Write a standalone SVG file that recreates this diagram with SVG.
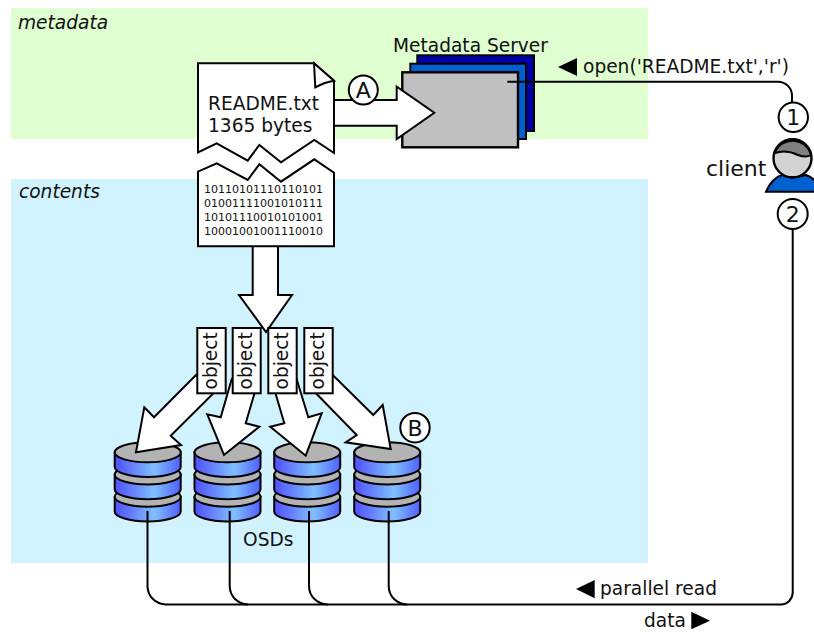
<svg xmlns="http://www.w3.org/2000/svg" xmlns:xlink="http://www.w3.org/1999/xlink" width="814" height="633" viewBox="0 0 814 633">
<style>
text{font-family:"DejaVu Sans",sans-serif;fill:#111}
.s{stroke:#000;stroke-width:2;fill:#fff;stroke-linejoin:miter}
.w{stroke:#000;stroke-width:2;fill:#fff;stroke-miterlimit:10}
.c{fill:none;stroke:#000;stroke-width:2}
.m{font-size:18.6px}
.b{font-size:11px}
.n{font-size:22px;text-anchor:middle}
.disc{fill:url(#g);stroke:#000;stroke-width:2}
.top{fill:#b3b3b3;stroke:#000;stroke-width:2}
</style>
<defs>
<linearGradient id="g" x1="0" x2="1" y1="0" y2="0"><stop offset="0" stop-color="#4f4fff"/><stop offset="0.6" stop-color="#80bfff"/><stop offset="1" stop-color="#4f5fff"/></linearGradient>
<g id="disc"><path class="disc" d="M-33 0V14.7A33 10 0 0 0 33 14.7V0Z"/><ellipse class="top" cx="0" cy="0" rx="33" ry="10"/></g>
<g id="cyl"><use xlink:href="#disc" y="44.4"/><use xlink:href="#disc" y="22.2"/><use xlink:href="#disc" y="0"/></g>
</defs>
<rect id="metadata-zone" x="11" y="8" width="637" height="131" fill="#dfffd1"/>
<rect id="contents-zone" x="11" y="179" width="637" height="384" fill="#d1f2ff"/>
<text x="18" y="29" class="m" font-style="italic">metadata</text>
<text x="19" y="198" class="m" font-style="italic">contents</text>
<g id="metadata-server">
<rect x="417.3" y="55.3" width="116.7" height="75.7" fill="#0000a8" stroke="#000" stroke-width="2"/>
<rect x="410.3" y="63.7" width="115.7" height="75.3" fill="#0060d0" stroke="#000" stroke-width="2"/>
<rect x="402.3" y="72.3" width="115.7" height="75" fill="#c0c0c0" stroke="#000" stroke-width="2.4"/>
<text x="393" y="52" class="m">Metadata Server</text>
</g>
<g id="connectors">
<path class="c" d="M507.3 81.7H778A14 14 0 0 1 792 96V103"/>
<path class="c" d="M792.7 229V592A12 12 0 0 1 781 604.5H166A18.500 18.500 0 0 1 147.500 586V511"/>
<path class="c" d="M248 604.500A18.500 18.500 0 0 1 229.700 586V511"/>
<path class="c" d="M327.500 604.500A18.500 18.500 0 0 1 309 586V511"/>
<path class="c" d="M407 604.500A18.500 18.500 0 0 1 388.700 586V511"/>
</g>
<g id="cylinders">
<use id="osd1" xlink:href="#cyl" x="147.700" y="452.300"/>
<use id="osd2" xlink:href="#cyl" x="227.500" y="452.300"/>
<use id="osd3" xlink:href="#cyl" x="307.200" y="452.300"/>
<use id="osd4" xlink:href="#cyl" x="387.200" y="452.300"/>
<path class="c" d="M147.500 511V522M229.700 511V522M309 511V522M388.700 511V522"/>
</g>
<g id="arrows">
<path class="w" d="M334 100H396.700V86.700L434.300 112.700 396.700 139V125.700H334Z"/>
<path class="w" d="M252.700 246V295H239L266 332 292 295H278V246Z"/>
<path class="w" d="M196 375L154 417.300 144.300 407.300 136 452.300 181 445 170.700 435.700 212.700 394Z"/>
<path class="w" d="M231.700 379.300L220.700 417.300 207.300 414.300 224 455 259.300 426.700 245.700 423.300 254.300 394Z"/>
<path class="w" d="M275.700 394L284.300 423.300 270.300 426.700 305.700 455.700 321.700 413.300 308.300 417.300 296.700 379.300Z"/>
<path class="w" d="M316.700 394L356.700 435 345.700 442.300 390.700 449 382.700 405 373.300 415 332.700 375Z"/>
</g>
<g id="readme">
<path class="s" d="M198 63.300H314L334 80.700V153L314.300 140 281 162.300 259.300 145 247.700 160.700 216.700 143.300 198 152.300Z"/>
<path class="s" d="M314 63.300L315.300 87.300Q325 82 334 80.700Z"/>
<text x="208" y="110" class="m">README.txt</text>
<text x="208" y="132" class="m">1365 bytes</text>
</g>
<g id="binary">
<path class="s" d="M198 171.700L216.700 163.300 247.700 180 259.300 164.300 281 181.700 314.300 159.300 334 172.700V246.300H198Z"/>
<text x="204" y="193.300" class="b">10110101110110101</text>
<text x="204" y="207.300" class="b">01001111001010111</text>
<text x="204" y="221.300" class="b">10101110010101001</text>
<text x="204" y="235.300" class="b">10001001001110010</text>
</g>
<g id="object1"><rect class="s" x="197.300" y="328" width="28.400" height="65.300"/><text transform="translate(216.500 389.500) rotate(-90)" class="m">object</text></g>
<g id="object2"><rect class="s" x="232.700" y="328" width="28" height="65.300"/><text transform="translate(251.500 389.500) rotate(-90)" class="m">object</text></g>
<g id="object3"><rect class="s" x="268.300" y="328" width="28.400" height="65.300"/><text transform="translate(287.500 389.500) rotate(-90)" class="m">object</text></g>
<g id="object4"><rect class="s" x="304.300" y="328" width="28.400" height="65.300"/><text transform="translate(323.500 389.500) rotate(-90)" class="m">object</text></g>
<g id="label-a"><circle class="s" cx="363.300" cy="90" r="14.500"/><text x="363.300" y="98" class="n">A</text></g>
<g id="label-b"><circle class="s" cx="415" cy="427.700" r="14.700"/><text x="415" y="435.700" class="n">B</text></g>
<g id="label-1"><circle class="s" cx="793.300" cy="117.300" r="14.700"/><text x="793.300" y="125.300" class="n">1</text></g>
<g id="label-2"><circle class="s" cx="792.700" cy="214" r="15"/><text x="792.700" y="222" class="n">2</text></g>
<g id="client">
<path d="M766 191.700Q772 178 782 175L792 178L806 175Q812 177 816 182V191.700Z" fill="#0060d0" stroke="#000" stroke-width="2"/>
<circle cx="792.500" cy="158.300" r="19" fill="#d3d3d3" stroke="#000" stroke-width="2.400"/>
<path d="M774.800 153A19 19 0 0 1 811 155Q806 158 798 155 786 149 774.800 153Z" fill="#808080" stroke="#000" stroke-width="2"/>
<text x="706" y="176" font-size="22px">client</text>
</g>
<g id="labels">
<text x="243" y="546" class="m">OSDs</text>
<path d="M558 67L577 58V76Z"/>
<text x="583" y="73" class="m">open('README.txt','r')</text>
<path d="M576 589L594.700 580V598.300Z"/>
<text x="600" y="595" class="m">parallel read</text>
<text x="644" y="627" class="m">data</text>
<path d="M691.300 611.700L710 620.700 691.300 629.300Z"/>
</g>
</svg>
